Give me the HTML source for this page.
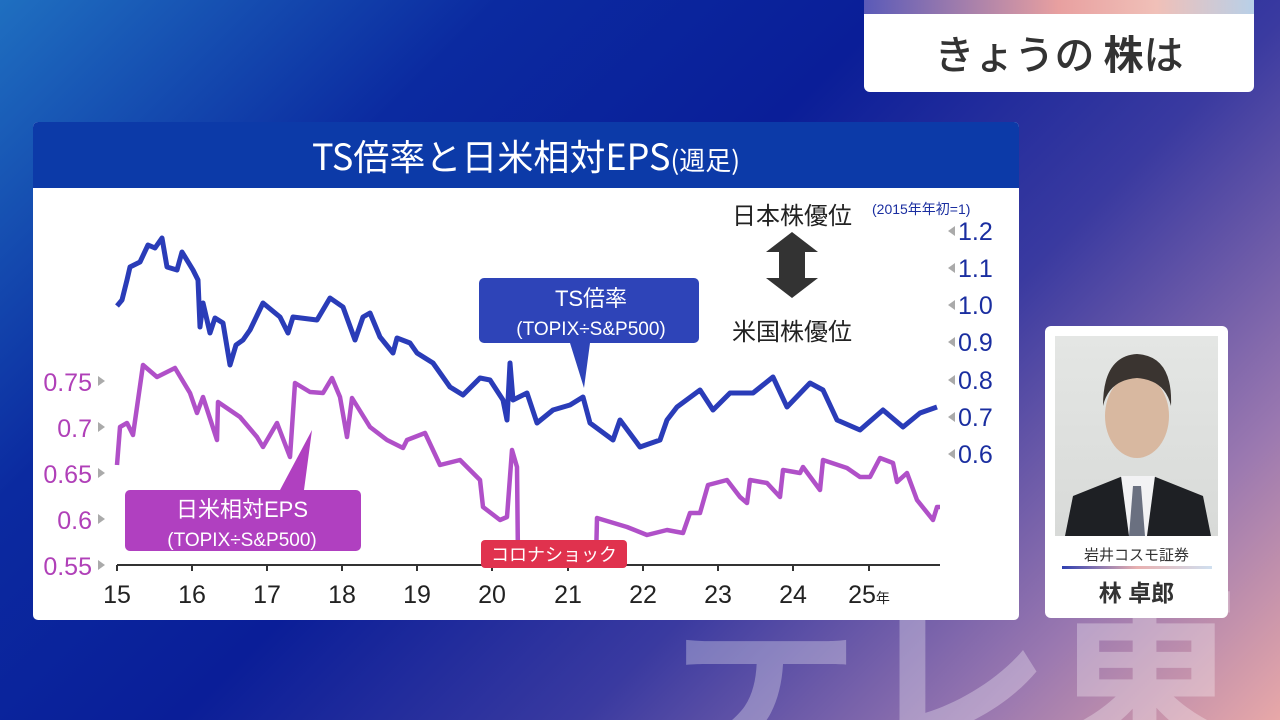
<!DOCTYPE html>
<html><head><meta charset="utf-8"><style>
*{margin:0;padding:0;box-sizing:border-box}
html,body{width:1280px;height:720px;overflow:hidden}
body{position:relative;font-family:"Liberation Sans","Noto Sans CJK JP",sans-serif;
background:linear-gradient(135deg,#1f6fc0 0%,#0b2aa0 25%,#0a1e98 45%,#3a3aa0 65%,#9a78b0 85%,#e8a8a8 100%);}
.wm{position:absolute;left:670px;top:560px;font-size:190px;line-height:190px;font-weight:bold;color:rgba(255,255,255,0.3);font-family:"Noto Sans CJK JP",sans-serif;white-space:nowrap}
.top{position:absolute;left:864px;top:0;width:390px;height:92px;background:#fff;border-radius:0 0 6px 6px;overflow:hidden}
.top .bar{height:14px;background:linear-gradient(90deg,#5a5ab8,#e8a0a0 50%,#f0c0b8 75%,#b8d0e8)}
.top .t{font-size:40px;color:#333;text-align:center;line-height:76px;font-family:"Noto Sans CJK JP",sans-serif;font-weight:500}
.panel{position:absolute;left:33px;top:122px;width:986px;height:498px;background:#fff;border-radius:5px;overflow:hidden}
.hdr{height:66px;background:#0c3aa8;color:#fff;text-align:center;font-size:36px;line-height:66px;font-family:"Noto Sans CJK JP",sans-serif}
.hdr small{font-size:26px}
.card{position:absolute;left:1045px;top:326px;width:183px;height:292px;background:#fff;border-radius:6px}
.photo{position:absolute;left:10px;top:10px;width:163px;height:200px;background:linear-gradient(#e4e6e4,#d8dad8);overflow:hidden}
</style></head><body>
<div class="wm">テレ東</div>
<div class="top"><div class="bar"></div><div class="t">きょうの <b>株</b>は</div></div>
<div class="panel"><div class="hdr">TS倍率と日米相対EPS<small>(週足)</small></div></div>
<svg style="position:absolute;left:0;top:0" width="1280" height="720" font-family="Liberation Sans, Noto Sans CJK JP, sans-serif">
<line x1="117" y1="565" x2="940" y2="565" stroke="#333" stroke-width="2"/>
<g stroke="#333" stroke-width="2">
<line x1="117" y1="565" x2="117" y2="571"/><line x1="192" y1="565" x2="192" y2="571"/><line x1="267" y1="565" x2="267" y2="571"/><line x1="342" y1="565" x2="342" y2="571"/><line x1="417" y1="565" x2="417" y2="571"/><line x1="492" y1="565" x2="492" y2="571"/><line x1="568" y1="565" x2="568" y2="571"/><line x1="643" y1="565" x2="643" y2="571"/><line x1="718" y1="565" x2="718" y2="571"/><line x1="793" y1="565" x2="793" y2="571"/><line x1="869" y1="565" x2="869" y2="571"/></g>
<g font-size="25" fill="#222" text-anchor="middle">
<text x="117" y="603">15</text><text x="192" y="603">16</text><text x="267" y="603">17</text><text x="342" y="603">18</text><text x="417" y="603">19</text><text x="492" y="603">20</text><text x="568" y="603">21</text><text x="643" y="603">22</text><text x="718" y="603">23</text><text x="793" y="603">24</text><text x="869" y="603">25<tspan font-size="14">年</tspan></text></g>
<g font-size="25" fill="#b040b8" text-anchor="end">
<text x="92" y="391">0.75</text><text x="92" y="437">0.7</text><text x="92" y="483">0.65</text><text x="92" y="529">0.6</text><text x="92" y="575">0.55</text></g>
<g fill="#aaa"><path d="M98 376l7 5-7 5z"/><path d="M98 422l7 5-7 5z"/><path d="M98 468l7 5-7 5z"/><path d="M98 514l7 5-7 5z"/><path d="M98 560l7 5-7 5z"/>
<path d="M955 226l-7 5 7 5z"/><path d="M955 263l-7 5 7 5z"/><path d="M955 300l-7 5 7 5z"/><path d="M955 337l-7 5 7 5z"/><path d="M955 375l-7 5 7 5z"/><path d="M955 412l-7 5 7 5z"/><path d="M955 449l-7 5 7 5z"/></g>
<g font-size="25" fill="#1a2ea0"><text x="958" y="240">1.2</text><text x="958" y="277">1.1</text><text x="958" y="314">1.0</text><text x="958" y="351">0.9</text><text x="958" y="389">0.8</text><text x="958" y="426">0.7</text><text x="958" y="463">0.6</text></g>
<text x="872" y="214" font-size="14" fill="#1a2ea0">(2015年年初=1)</text>
<text x="792" y="224" font-size="24" fill="#222" text-anchor="middle">日本株優位</text>
<text x="792" y="340" font-size="24" fill="#222" text-anchor="middle">米国株優位</text>
<path d="M792 232l26 20h-13v26h13l-26 20-26-20h13v-26h-13z" fill="#333"/>
<polyline fill="none" stroke="#b050c8" stroke-width="4.5" stroke-linejoin="round" points="117,465 120,427 127,423 133,435 143,365 157,377 175,368 190,393 197,413 203,397 217,440 218,402 240,417 257,437 263,447 277,423 290,457 295,383 310,392 323,393 332,378 340,397 347,437 352,398 370,427 387,440 403,448 407,440 425,433 440,465 460,460 480,480 483,507 500,520 507,517 512,450 517,467 518,560 596,560 597,518 627,527 647,535 667,530 683,533 690,513 700,513 708,485 727,480 740,497 747,503 750,480 767,483 780,497 783,470 800,473 803,467 820,490 823,460 847,468 860,477 870,477 880,458 893,463 897,482 907,473 917,500 933,520 937,507 940,507"/>
<polyline fill="none" stroke="#2a3cb8" stroke-width="5" stroke-linejoin="round" points="117,306 122,300 127,280 130,267 140,262 148,245 155,248 162,238 167,267 177,270 182,252 193,270 198,280 200,327 203,303 210,333 215,318 223,323 230,365 236,345 243,340 250,330 263,303 280,317 288,333 293,317 317,320 330,298 343,307 355,340 363,317 370,313 380,337 393,353 397,338 410,343 417,353 433,363 450,387 463,395 480,378 490,380 503,400 507,420 510,363 513,400 527,393 537,423 553,410 570,405 583,397 590,423 613,440 620,420 640,447 660,440 667,420 677,407 700,390 713,410 730,393 753,393 773,377 787,407 810,383 823,390 837,420 860,430 883,410 903,427 920,413 937,407"/>
<path d="M484 278h210a5 5 0 0 1 5 5v55a5 5 0 0 1-5 5h-104l-6 45-14-45h-86a5 5 0 0 1-5-5v-55a5 5 0 0 1 5-5z" fill="#2e44b8"/>
<text x="591" y="306" font-size="22" fill="#fff" text-anchor="middle">TS倍率</text>
<text x="591" y="335" font-size="19" fill="#fff" text-anchor="middle">(TOPIX÷S&amp;P500)</text>
<path d="M130 490h150l32-60-8 60h52a5 5 0 0 1 5 5v51a5 5 0 0 1-5 5h-226a5 5 0 0 1-5-5v-51a5 5 0 0 1 5-5z" fill="#b040c0"/>
<text x="242" y="517" font-size="22" fill="#fff" text-anchor="middle">日米相対EPS</text>
<text x="242" y="546" font-size="19" fill="#fff" text-anchor="middle">(TOPIX÷S&amp;P500)</text>
<rect x="481" y="540" width="146" height="28" rx="4" fill="#e0324e"/>
<text x="554" y="561" font-size="18" fill="#fff" text-anchor="middle">コロナショック</text>
</svg>
<div class="card"><div class="photo">
<svg width="163" height="200"><path d="M10 200l8-40 50-20h30l50 20 8 40z" fill="#1e2024"/><path d="M66 140h34l-8 60h-18z" fill="#f2f2f4"/><path d="M78 150h8l4 50h-16z" fill="#6a7080"/><ellipse cx="82" cy="80" rx="32" ry="42" fill="#d8b8a0"/><path d="M48 70q0-50 34-52 36 2 34 52-6-26-34-28-28 2-34 28z" fill="#3a3430"/></svg>
</div>
<div style="position:absolute;top:218px;width:100%;text-align:center;font-size:15px;color:#333">岩井コスモ証券</div>
<div style="position:absolute;left:17px;top:240px;width:150px;height:3px;background:linear-gradient(90deg,#3040b0,#e8b0b0,#d0e0f0)"></div>
<div style="position:absolute;top:248px;width:100%;text-align:center;font-size:23px;font-weight:bold;color:#333">林 卓郎</div>
</div>
</body></html>
